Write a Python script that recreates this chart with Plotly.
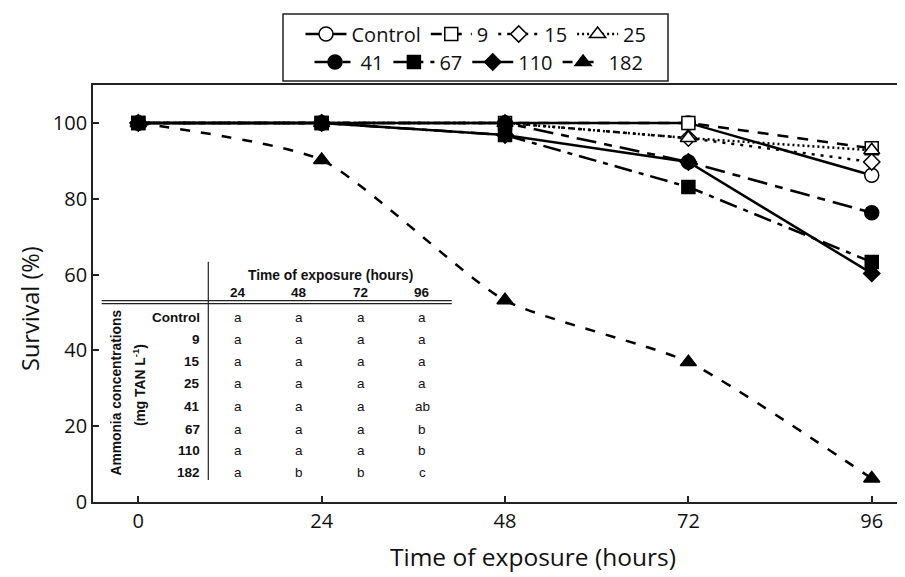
import plotly.graph_objects as go

# ---------------- data ----------------
hours = [0, 24, 48, 72, 96]
control = [100, 100, 100, 100, 86.2]
c9 = [100, 100, 100, 100, 93.3]
c15 = [100, 100, 100, 96.0, 89.7]
c25 = [100, 100, 100, 96.0, 92.8]
c41 = [100, 100, 100, 89.7, 76.3]
c67 = [100, 100, 96.8, 83.1, 63.3]
c110 = [100, 100, 96.8, 89.7, 60.3]
c182 = [100, 90.2, 53.2, 36.9, 6.2]

x_ticks = [0, 24, 48, 72, 96]
y_ticks = [0, 20, 40, 60, 80, 100]

table_cols = ["24", "48", "72", "96"]
table_rows = ["Control", "9", "15", "25", "41", "67", "110", "182"]
table_letters = [
    ["a", "a", "a", "a"],
    ["a", "a", "a", "a"],
    ["a", "a", "a", "a"],
    ["a", "a", "a", "a"],
    ["a", "a", "a", "ab"],
    ["a", "a", "a", "b"],
    ["a", "a", "a", "b"],
    ["a", "b", "b", "c"],
]

# ---------------- layout geometry (page pixels; body margin 8px) ----------------
OFF = 8
W, H = 905 - OFF, 577 - OFF
PL, PR, PT, PB = 93, 905, 85, 502          # plot area in page pixels
ML, MR, MT, MB = PL - OFF, 0, PT - OFF, 577 - PB
PW, PH = PR - PL, PB - PT


def px(xp):
    return (xp - PL) / PW


def py(yp):
    return (PB - yp) / PH


FONT = "Open Sans"
TFONT = "Liberation Sans"

styles = [
    ("Control", control, "solid", "circle", True, "legend"),
    ("9", c9, "11px,9px", "square", True, "legend"),
    ("15", c15, "3px,6px", "diamond", True, "legend"),
    ("25", c25, "2px,3px", "triangle-up", True, "legend"),
    ("41", c41, "20px,8px,8px,8px", "circle", False, "legend2"),
    ("67", c67, "18px,7px,5px,7px", "square", False, "legend2"),
    ("110", c110, "solid", "diamond", False, "legend2"),
    ("182", c182, "10px,11px", "triangle-up", False, "legend2"),
]
sizes = {"circle": 14, "square": 13, "diamond": 12.5, "triangle-up": 14}

fig = go.Figure()
order = [7, 0, 1, 2, 3, 6, 4, 5]  # drawing order
for i in order:
    name, ys, dash, sym, hollow, leg = styles[i]
    fig.add_trace(go.Scatter(
        x=hours, y=ys, name=name, mode="lines+markers",
        line=dict(color="black", width=2.5, dash=dash,
                  shape="spline" if name == "182" else "linear", smoothing=0.6),
        marker=dict(symbol=sym, size=sizes[sym],
                    color="white" if hollow else "black",
                    line=dict(color="black", width=1.5)),
        legend=leg, legendrank=i,
    ))

# legend box
shapes = [dict(type="rect", xref="paper", yref="paper",
               x0=px(283), x1=px(668), y0=py(81), y1=py(14),
               line=dict(color="#222", width=1.5), fillcolor="rgba(0,0,0,0)")]

# table lines
shapes.append(dict(type="line", xref="paper", yref="paper",
                   x0=px(208.3), x1=px(208.3), y0=py(480), y1=py(261.7),
                   line=dict(color="#222", width=1.2)))
for yy in (300.7, 303.6):
    shapes.append(dict(type="line", xref="paper", yref="paper",
                       x0=px(101.7), x1=px(451.7), y0=py(yy), y1=py(yy),
                       line=dict(color="#222", width=1.2)))


def note(text, xp, yp, size=13, family=TFONT, xanchor="center", angle=0):
    return dict(text=text, x=px(xp), y=py(yp), xref="paper", yref="paper",
                xanchor=xanchor, yanchor="middle", showarrow=False, textangle=angle,
                font=dict(family=family, size=size, color="#111"))


ann = [note("<b>Time of exposure (hours)</b>", 330.5, 275.7, size=13.8)]
col_x = [238, 299, 360.7, 422]
for cx, lab in zip(col_x, table_cols):
    ann.append(note(f"<b>{lab}</b>", cx, 292.7, size=13.5))
row_y = [317.3, 339.0, 361.7, 383.3, 406.0, 429.0, 450.7, 472.7]
for ry, rl, letters in zip(row_y, table_rows, table_letters):
    ann.append(note(f"<b>{rl}</b>", 201.5, ry, size=13.5, xanchor="right"))
    for cx, lt in zip(col_x, letters):
        ann.append(note(lt, cx, ry, size=13.5))
ann.append(note("<b>Ammonia concentrations</b>", 115.5, 393, size=13.8, angle=-90))
ann.append(note("<b>(mg TAN L<sup>-1</sup>)</b>", 139, 385, size=13.8, angle=-90))

# axis titles
ann.append(note("Time of exposure (hours)", 533, 556, size=24.5, family=FONT))
ann.append(note("Survival (%)", 30, 309, size=23.5, family=FONT, angle=-90))

x0 = -(138.3 - PL) / 7.64
x1 = x0 + PW / 7.64

legend_common = dict(orientation="h", xref="container", yref="container",
                     xanchor="center", yanchor="middle", bgcolor="rgba(0,0,0,0)",
                     borderwidth=0, font=dict(family=FONT, size=20, color="#111"),
                     itemwidth=41, traceorder="normal")

fig.update_layout(
    width=W, height=H,
    margin=dict(l=ML, r=MR, t=MT, b=MB, autoexpand=False),
    plot_bgcolor="white", paper_bgcolor="white",
    font=dict(family=FONT, color="#111"),
    showlegend=True,
    legend=dict(x=(476 - OFF) / W, y=1 - (34 - OFF) / H, **legend_common),
    legend2=dict(x=(479 - OFF) / W, y=1 - (62 - OFF) / H, **legend_common),
    xaxis=dict(range=[x0, x1], tickvals=x_ticks, ticktext=[str(v) for v in x_ticks],
               ticks="inside", ticklen=6, tickwidth=1.5, tickcolor="#222",
               showline=True, linecolor="#222", linewidth=1.8, mirror=True,
               showgrid=False, zeroline=False,
               tickfont=dict(family=FONT, size=20, color="#111")),
    yaxis=dict(range=[0, 110], tickvals=y_ticks,
               ticks="inside", ticklen=6, tickwidth=1.5, tickcolor="#222",
               showline=True, linecolor="#222", linewidth=1.8,
               showgrid=False, zeroline=False,
               tickfont=dict(family=FONT, size=20, color="#111")),
    shapes=shapes,
    annotations=ann,
)

fig.write_html("out.html")
